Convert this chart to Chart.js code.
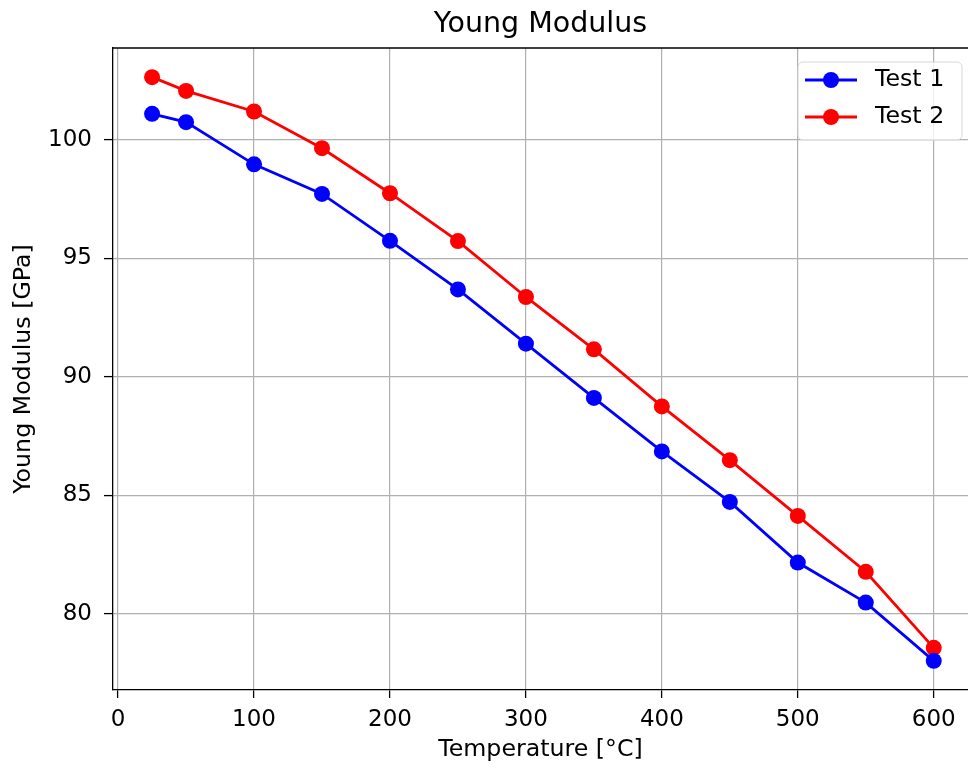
<!DOCTYPE html>
<html>
<head>
<meta charset="utf-8">
<script src="https://cdn.jsdelivr.net/npm/chart.js@4"></script>
<style>
  html, body { margin: 0; padding: 0; background: #fff; overflow: hidden; }
  #wrap { width: 968px; height: 770px; }
</style>
</head>
<body>
<div id="wrap"><canvas id="c"></canvas></div>
<script>
// values
var temps = [25, 50, 100, 150, 200, 250, 300, 350, 400, 450, 500, 550, 600];
var test1 = [101.10, 100.75, 98.97, 97.72, 95.74, 93.69, 91.40, 89.11, 86.85, 84.72, 82.16, 80.47, 78.01];
var test2 = [102.65, 102.07, 101.20, 99.65, 97.75, 95.73, 93.37, 91.16, 88.75, 86.48, 84.13, 81.77, 78.56];
var xTicks = [0, 100, 200, 300, 400, 500, 600];
var yTicks = [80, 85, 90, 95, 100];

var FONT = 'DejaVu Sans';
var LBL = 23.7;

function pts(ys) { return temps.map(function(t, i) { return {x: t, y: ys[i]}; }); }

// matplotlib-like top spine + legend (right spine falls just outside the picture)
var mplPlugin = {
  id: 'mpl',
  afterDatasetsDraw: function(chart) {
    var ctx = chart.ctx, a = chart.chartArea;
    ctx.save();
    ctx.strokeStyle = '#000';
    ctx.lineWidth = 1.3;
    ctx.beginPath();
    ctx.moveTo(a.left, a.top);
    ctx.lineTo(a.right, a.top);
    ctx.stroke();

    // legend box
    var bx = 798, by = 62, bw = 164, bh = 78, r = 5;
    ctx.beginPath();
    ctx.moveTo(bx + r, by);
    ctx.arcTo(bx + bw, by, bx + bw, by + bh, r);
    ctx.arcTo(bx + bw, by + bh, bx, by + bh, r);
    ctx.arcTo(bx, by + bh, bx, by, r);
    ctx.arcTo(bx, by, bx + bw, by, r);
    ctx.closePath();
    ctx.fillStyle = 'rgba(255,255,255,0.8)';
    ctx.fill();
    ctx.strokeStyle = '#d6d6d6';
    ctx.lineWidth = 1;
    ctx.stroke();

    chart.data.datasets.forEach(function(ds, i) {
      var y = 80 + i * 37;
      ctx.strokeStyle = ds.borderColor;
      ctx.lineWidth = ds.borderWidth;
      ctx.beginPath();
      ctx.moveTo(805, y);
      ctx.lineTo(857, y);
      ctx.stroke();
      ctx.fillStyle = ds.borderColor;
      ctx.beginPath();
      ctx.arc(831, y, 8, 0, Math.PI * 2);
      ctx.fill();
      ctx.fillStyle = '#000';
      ctx.font = LBL + 'px "' + FONT + '"';
      ctx.textAlign = 'left';
      ctx.textBaseline = 'middle';
      ctx.fillText(ds.label, 875, y);
    });
    ctx.restore();
  }
};

new Chart(document.getElementById('c'), {
  type: 'line',
  data: {
    datasets: [
      { label: 'Test 1', data: pts(test1), borderColor: '#0000ff', backgroundColor: '#0000ff',
        borderWidth: 2.8, pointRadius: 8, pointBorderWidth: 0, pointBackgroundColor: '#0000ff', tension: 0 },
      { label: 'Test 2', data: pts(test2), borderColor: '#ff0000', backgroundColor: '#ff0000',
        borderWidth: 2.8, pointRadius: 8, pointBorderWidth: 0, pointBackgroundColor: '#ff0000', tension: 0 }
    ]
  },
  options: {
    responsive: true, maintainAspectRatio: false, animation: false,
    layout: { autoPadding: false, padding: 0 },
    plugins: {
      legend: { display: false },
      tooltip: { enabled: false },
      title: {
        display: true, fullSize: false, text: 'Young Modulus', color: '#000',
        font: { family: FONT, size: 28.5, weight: 'normal' },
        padding: { top: 7.9, bottom: 5.9 }
      }
    },
    scales: {
      x: {
        // the reference axis is cut off at the right edge of the picture
        type: 'linear', min: -3.75, max: 625.2,
        afterBuildTicks: function(s) { s.ticks = xTicks.map(function(v) { return {value: v}; }); },
        afterFit: function(s) { s.height = 80; s.paddingLeft = 0; s.paddingRight = 0; },
        grid: { color: '#b0b0b0', lineWidth: 1.2, tickColor: '#000', tickLength: 8, tickWidth: 1.3 },
        border: { color: '#000', width: 1.3 },
        ticks: { color: '#000', padding: 8, maxRotation: 0, font: { family: FONT, size: 23 } },
        title: { display: true, text: 'Temperature [°C]', color: '#000',
          font: { family: FONT, size: LBL }, padding: { top: 0, bottom: 6 } }
      },
      y: {
        type: 'linear', min: 76.78, max: 103.88,
        afterBuildTicks: function(s) { s.ticks = yTicks.map(function(v) { return {value: v}; }); },
        afterFit: function(s) { s.width = 113; s.paddingTop = 0; s.paddingBottom = 0; },
        grid: { color: '#b0b0b0', lineWidth: 1.2, tickColor: '#000', tickLength: 9, tickWidth: 1.3 },
        border: { color: '#000', width: 1.3 },
        ticks: { color: '#000', padding: 12, font: { family: FONT, size: 23 } },
        title: { display: true, text: 'Young Modulus [GPa]', color: '#000',
          font: { family: FONT, size: LBL }, padding: { top: 9.8, bottom: 0 } }
      }
    }
  },
  plugins: [mplPlugin]
});
</script>
</body>
</html>
